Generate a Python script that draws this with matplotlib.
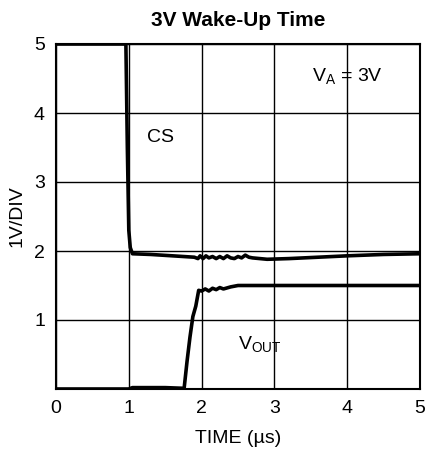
import matplotlib
matplotlib.use('Agg')
import matplotlib.pyplot as plt

plt.rcParams['font.family'] = ['Liberation Sans', 'DejaVu Sans']

# CS trace (time in us, volts)
cs_t = [0, 0.96, 0.98, 1.0, 1.02, 1.05, 1.3, 1.6, 1.9, 1.95, 1.98, 2.02, 2.06, 2.1, 2.15, 2.2, 2.25,
        2.3, 2.35, 2.4, 2.45, 2.5, 2.55, 2.6, 2.65, 2.7, 2.8, 2.9, 3.2, 3.6, 4.0, 4.5, 5.0]
cs_v = [5, 5, 3.5, 2.3, 2.05, 1.96, 1.95, 1.93, 1.91, 1.89, 1.93, 1.89, 1.93, 1.9, 1.92, 1.89, 1.92,
        1.89, 1.93, 1.9, 1.89, 1.92, 1.9, 1.94, 1.91, 1.9, 1.89, 1.88, 1.89, 1.91, 1.93, 1.95, 1.96]

# VOUT trace
vo_t = [0, 1.0, 1.05, 1.5, 1.76, 1.8, 1.84, 1.88, 1.92, 1.96, 2.0, 2.05, 2.1, 2.15, 2.2, 2.25, 2.3,
        2.4, 2.5, 3.0, 4.0, 5.0]
vo_v = [0, 0, 0.02, 0.02, 0.01, 0.4, 0.75, 1.05, 1.2, 1.43, 1.42, 1.45, 1.42, 1.46, 1.44, 1.47, 1.45,
        1.48, 1.5, 1.5, 1.5, 1.5]

fig = plt.figure(figsize=(4.25, 4.51), dpi=100)
ax = fig.add_axes([56/425, 62/451, 364/425, 345/451])

ax.plot(cs_t, cs_v, color='black', lw=2.6)
ax.plot(vo_t, vo_v, color='black', lw=2.6)

ax.set_xlim(0, 5)
ax.set_ylim(0, 5)
ax.set_xticks([0, 1, 2, 3, 4, 5])
ax.set_yticks([1, 2, 3, 4, 5])
ax.tick_params(length=0, labelsize=14, pad=8)
ax.grid(True, color='black', lw=1)
for s in ax.spines.values():
    s.set_linewidth(1.5)

ax.text(1.43, 3.65, 'CS', fontsize=14, ha='center', va='center')
ax.text(4.0, 4.52, r'V$_\mathregular{A}$ = 3V', fontsize=14, ha='center', va='center')
ax.text(2.8, 0.64, r'V$_\mathregular{OUT}$', fontsize=14, ha='center', va='center')

ax.set_xlabel('TIME (µs)', fontsize=14, labelpad=9)
ax.set_ylabel('1V/DIV', fontsize=14, labelpad=6)
ax.set_title('3V Wake-Up Time', fontsize=15, fontweight='bold', pad=13)

fig.savefig('out.png', dpi=100)
